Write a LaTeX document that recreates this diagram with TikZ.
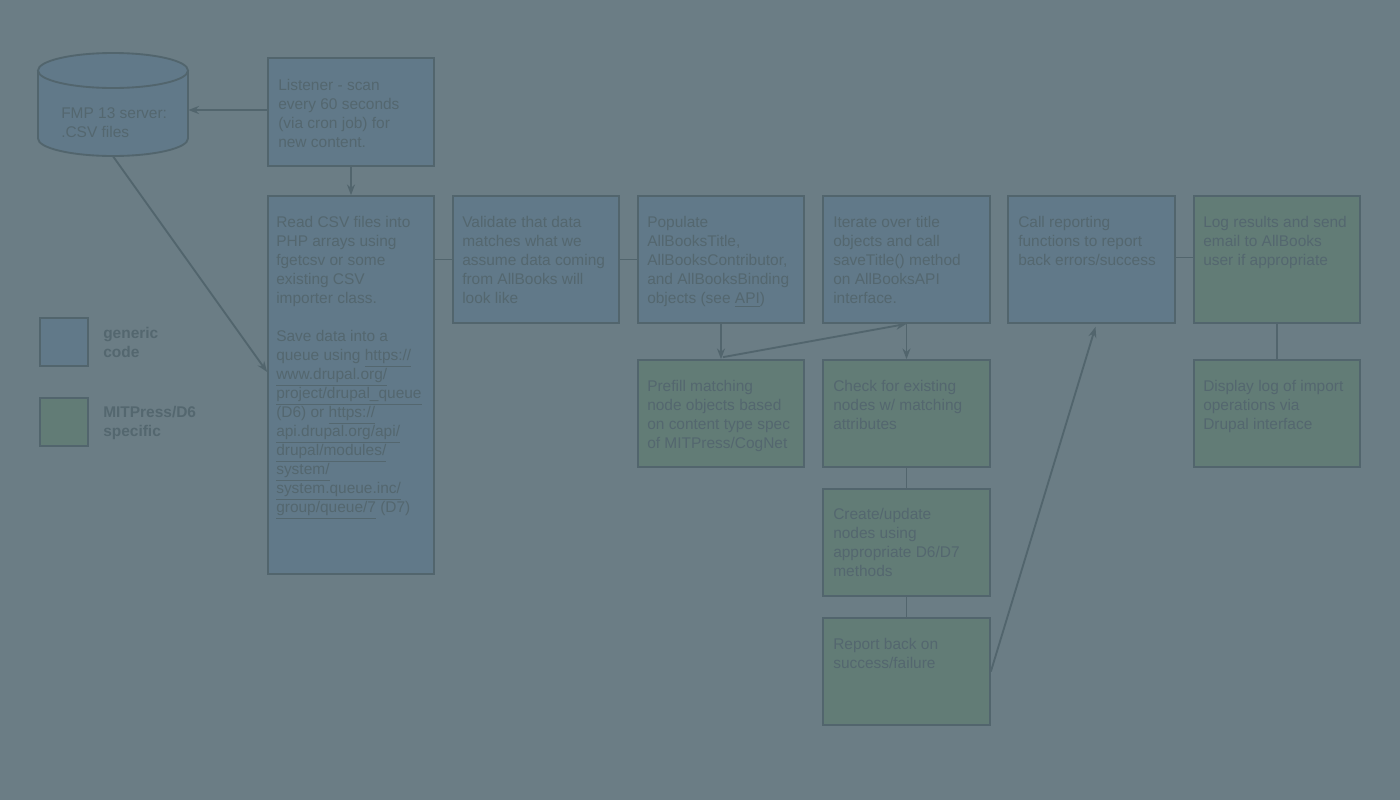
\documentclass[tikz,border=0pt]{standalone}
\usepackage{fontspec}
\setmainfont{Liberation Sans}
\usetikzlibrary{fit,arrows.meta}
\definecolor{bgc}{RGB}{107,125,133}
\definecolor{bluef}{RGB}{97,121,137}
\definecolor{greenf}{RGB}{98,124,118}
\definecolor{bordc}{RGB}{82,101,109}
\definecolor{txtc}{RGB}{84,103,111}
\tikzset{
  box/.style={draw=bordc, line width=1.3pt, inner sep=0pt, rectangle},
  bluebox/.style={box, fill=bluef},
  greenbox/.style={box, fill=greenf},
  txt/.style={anchor=north west, inner sep=0pt, align=left, text=txtc,
    font=\fontsize{11.6}{14.25}\selectfont},
  legtxt/.style={txt, font=\fontsize{11.6}{14.25}\selectfont\bfseries},
  conn/.style={draw=bordc, line width=1.4pt},
  arr/.style={conn, -{Stealth[length=8pt,width=6pt]}},
}
\newcommand{\ul}[1]{\underline{#1}}
\begin{document}
\begin{tikzpicture}[x=0.75pt,y=-0.75pt]
\fill[bgc] (0,0) rectangle (1400,800);
\useasboundingbox (0,0) rectangle (1400,800);

% cylinder
\node[inner sep=0pt, fit={(38,53) (188,156)}] (fmp) {};
\fill[bluef] (38,70.5) -- (38,138.5) arc[start angle=180,end angle=0,x radius=75,y radius=17.5]
  -- (188,70.5) arc[start angle=0,end angle=-180,x radius=75,y radius=17.5] -- cycle;
\draw[conn] (38,70.5) -- (38,138.5) arc[start angle=180,end angle=0,x radius=75,y radius=17.5] -- (188,70.5);
\draw[conn] (113,70.5) ellipse[x radius=75,y radius=17.5];
\node[txt] (fmptxt) at (61,107) {FMP 13 server:\\.CSV files};

% boxes
\node[bluebox, fit={(268,58) (434,166)}] (listener) {};
\node[bluebox, fit={(268,196) (434,574)}] (read) {};
\node[bluebox, fit={(453,196) (619,323)}] (validate) {};
\node[bluebox, fit={(638,196) (804,323)}] (populate) {};
\node[bluebox, fit={(823,196) (990,323)}] (iterate) {};
\node[bluebox, fit={(1008,196) (1175,323)}] (call) {};
\node[greenbox, fit={(1194,196) (1360,323)}] (log) {};
\node[greenbox, fit={(638,360) (804,467)}] (prefill) {};
\node[greenbox, fit={(823,360) (990,467)}] (check) {};
\node[greenbox, fit={(823,489) (990,596)}] (create) {};
\node[greenbox, fit={(823,618) (990,725)}] (report) {};
\node[greenbox, fit={(1194,360) (1360,467)}] (display) {};
\node[bluebox, fit={(40,318) (88,366)}] (legblue) {};
\node[greenbox, fit={(40,398) (88,446)}] (leggreen) {};

% texts
\node[txt] (t1) at (278,79.5) {Listener - scan\\every 60 seconds\\(via cron job) for\\new content.};
\node[txt] (t2) at (276,216.5) {Read CSV files into\\PHP arrays using\\fgetcsv or some\\existing CSV\\importer class.\\[14.25pt]
Save data into a\\queue using \ul{https://}\\\ul{www.drupal.org/}\\\ul{project/drupal\_queue}\\(D6) or \ul{https://}\\\ul{api.drupal.org/api/}\\\ul{drupal/modules/}\\\ul{system/}\\\ul{system.queue.inc/}\\\ul{group/queue/7} (D7)};
\node[txt] (t3) at (462,216.5) {Validate that data\\matches what we\\assume data coming\\from AllBooks will\\look like};
\node[txt] (t4) at (647,216.5) {Populate\\AllBooksTitle,\\AllBooksContributor,\\and AllBooksBinding\\objects (see \ul{API})};
\node[txt] (t5) at (833,216.5) {Iterate over title\\objects and call\\saveTitle() method\\on AllBooksAPI\\interface.};
\node[txt] (t6) at (1018,216.5) {Call reporting\\functions to report\\back errors/success};
\node[txt] (t7) at (1203,216.5) {Log results and send\\email to AllBooks\\user if appropriate};
\node[txt] (t8) at (647,380.5) {Prefill matching\\node objects based\\on content type spec\\of MITPress/CogNet};
\node[txt] (t9) at (833,380.5) {Check for existing\\nodes w/ matching\\attributes};
\node[txt] (t10) at (833,508.5) {Create/update\\nodes using\\appropriate D6/D7\\methods};
\node[txt] (t11) at (833,638.5) {Report back on\\success/failure};
\node[txt] (t12) at (1203,380.5) {Display log of import\\operations via\\Drupal interface};
\node[legtxt] (l1) at (103,327.5) {generic\\code};
\node[legtxt] (l2) at (103,406.5) {MITPress/D6\\specific};

% connectors
\draw[arr] ([shift={(0,-2)}]listener.west) -- ([shift={(0,-2)}]fmp.east |- listener.west);
\draw[arr] (listener.south) -- (read.north);
\draw[arr] (fmp.south) -- ([shift={(0,-13)}]read.west);
\draw[conn] (validate.west) -- (read.east |- validate.west);
\draw[conn] (validate.east) -- (populate.west);
\draw[arr] (populate.south) -- (prefill.north);
\draw[arr] ([shift={(2,-2)}]prefill.north) -- (iterate.south);
\draw[arr] (iterate.south) -- (check.north);
\draw[conn] (check.south) -- (create.north);
\draw[conn] (create.south) -- (report.north);
\draw[arr] (report.east) -- ([shift={(4,3)}]call.south);
\draw[conn] ([shift={(0,-2)}]call.east) -- ([shift={(0,-2)}]log.west);
\draw[conn] (log.south) -- (display.north);
\end{tikzpicture}
\end{document}
